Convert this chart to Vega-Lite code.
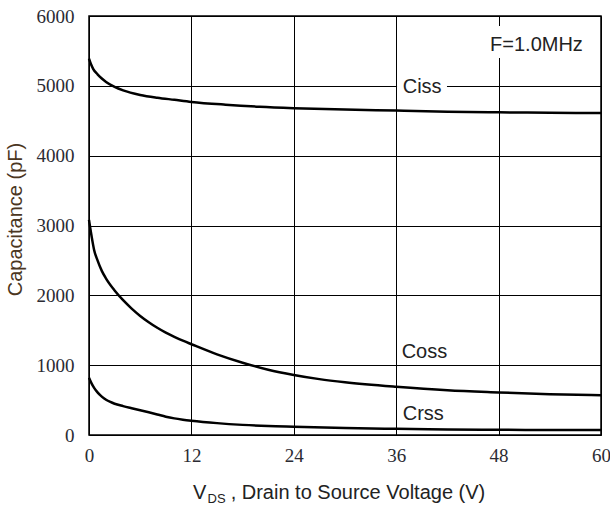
{
  "$schema": "https://vega.github.io/schema/vega-lite/v6.json",
  "width": 512,
  "height": 419,
  "autosize": {"type": "none"},
  "padding": {"left": 89, "top": 16, "right": 9, "bottom": 71},
  "background": "white",
  "config": {"view": {"stroke": "#000", "strokeWidth": 1.5}, "font": "Liberation Sans"},
  "datasets": {
    "curves": [
      {"series": "Ciss", "V": 0, "C": 5390}, {"series": "Ciss", "V": 0.25, "C": 5305}, {"series": "Ciss", "V": 0.5, "C": 5240},
      {"series": "Ciss", "V": 1, "C": 5165}, {"series": "Ciss", "V": 1.5, "C": 5105}, {"series": "Ciss", "V": 2, "C": 5055},
      {"series": "Ciss", "V": 3, "C": 4985}, {"series": "Ciss", "V": 4, "C": 4935}, {"series": "Ciss", "V": 6, "C": 4870},
      {"series": "Ciss", "V": 8, "C": 4830}, {"series": "Ciss", "V": 10, "C": 4800}, {"series": "Ciss", "V": 12, "C": 4770},
      {"series": "Ciss", "V": 16, "C": 4730}, {"series": "Ciss", "V": 20, "C": 4700}, {"series": "Ciss", "V": 24, "C": 4680},
      {"series": "Ciss", "V": 30, "C": 4660}, {"series": "Ciss", "V": 36, "C": 4645}, {"series": "Ciss", "V": 42, "C": 4630},
      {"series": "Ciss", "V": 48, "C": 4620}, {"series": "Ciss", "V": 54, "C": 4615}, {"series": "Ciss", "V": 60, "C": 4610},
      {"series": "Coss", "V": 0, "C": 3080}, {"series": "Coss", "V": 0.3, "C": 2850}, {"series": "Coss", "V": 0.6, "C": 2650},
      {"series": "Coss", "V": 1, "C": 2500}, {"series": "Coss", "V": 1.5, "C": 2350}, {"series": "Coss", "V": 2, "C": 2240},
      {"series": "Coss", "V": 3, "C": 2070}, {"series": "Coss", "V": 4, "C": 1930}, {"series": "Coss", "V": 5, "C": 1810},
      {"series": "Coss", "V": 6, "C": 1705}, {"series": "Coss", "V": 7, "C": 1615}, {"series": "Coss", "V": 8, "C": 1535},
      {"series": "Coss", "V": 9, "C": 1465}, {"series": "Coss", "V": 10, "C": 1405}, {"series": "Coss", "V": 11, "C": 1350},
      {"series": "Coss", "V": 12, "C": 1300}, {"series": "Coss", "V": 15, "C": 1155}, {"series": "Coss", "V": 18, "C": 1035},
      {"series": "Coss", "V": 21, "C": 935}, {"series": "Coss", "V": 24, "C": 860}, {"series": "Coss", "V": 27, "C": 800},
      {"series": "Coss", "V": 30, "C": 755}, {"series": "Coss", "V": 36, "C": 690}, {"series": "Coss", "V": 42, "C": 640},
      {"series": "Coss", "V": 48, "C": 610}, {"series": "Coss", "V": 54, "C": 585}, {"series": "Coss", "V": 60, "C": 570},
      {"series": "Crss", "V": 0, "C": 820}, {"series": "Crss", "V": 0.3, "C": 740}, {"series": "Crss", "V": 0.6, "C": 675},
      {"series": "Crss", "V": 1, "C": 610}, {"series": "Crss", "V": 1.5, "C": 550}, {"series": "Crss", "V": 2, "C": 505},
      {"series": "Crss", "V": 2.5, "C": 473}, {"series": "Crss", "V": 3, "C": 448}, {"series": "Crss", "V": 4, "C": 414},
      {"series": "Crss", "V": 5, "C": 384}, {"series": "Crss", "V": 6, "C": 355}, {"series": "Crss", "V": 7, "C": 325},
      {"series": "Crss", "V": 8, "C": 294}, {"series": "Crss", "V": 9, "C": 262}, {"series": "Crss", "V": 10, "C": 238},
      {"series": "Crss", "V": 11, "C": 220}, {"series": "Crss", "V": 12, "C": 205},
      {"series": "Crss", "V": 15, "C": 170}, {"series": "Crss", "V": 18, "C": 145}, {"series": "Crss", "V": 21, "C": 128},
      {"series": "Crss", "V": 24, "C": 118}, {"series": "Crss", "V": 30, "C": 100}, {"series": "Crss", "V": 36, "C": 88},
      {"series": "Crss", "V": 42, "C": 80}, {"series": "Crss", "V": 48, "C": 74}, {"series": "Crss", "V": 54, "C": 72},
      {"series": "Crss", "V": 60, "C": 70}
    ],
    "boxes": [
      {"V": 36.1, "V2": 41.95, "C": 4868, "C2": 5155},
      {"V": 46.5, "V2": 58.5, "C": 5399, "C2": 5857}
    ],
    "labels": [
      {"t": "Ciss", "V": 36.76, "C": 4902},
      {"t": "Coss", "V": 36.64, "C": 1098},
      {"t": "Crss", "V": 36.76, "C": 215},
      {"t": "F=1.0MHz", "V": 47.0, "C": 5503}
    ],
    "xtitle": [
      {"t": "V", "V": 12.19, "C": -916},
      {"t": ", Drain to Source Voltage (V)", "V": 16.6, "C": -916}
    ],
    "xsub": [
      {"t": "DS", "V": 13.9, "C": -974}
    ]
  },
  "layer": [
    {
      "data": {"name": "curves"},
      "mark": {"type": "line", "color": "#000", "strokeWidth": 2.5, "interpolate": "monotone"},
      "encoding": {
        "x": {
          "field": "V", "type": "quantitative",
          "scale": {"domain": [0, 60], "nice": false},
          "axis": {
            "values": [0, 12, 24, 36, 48, 60], "grid": true, "gridColor": "#000", "gridWidth": 1, "gridOpacity": 1,
            "domain": false, "ticks": false, "labelFont": "Liberation Sans Narrow", "labelFontSize": 19,
            "labelColor": "#2b2b33", "labelPadding": 11, "labelFlush": false, "title": null, "format": "d"
          }
        },
        "y": {
          "field": "C", "type": "quantitative",
          "scale": {"domain": [0, 6000], "nice": false},
          "axis": {
            "values": [0, 1000, 2000, 3000, 4000, 5000, 6000], "grid": true, "gridColor": "#000", "gridWidth": 1, "gridOpacity": 1,
            "domain": false, "ticks": false, "labelFont": "Liberation Sans Narrow", "labelFontSize": 19,
            "labelColor": "#2b2b33", "labelPadding": 15, "labelFlush": false, "format": "d",
            "title": "Capacitance (pF)", "titleFont": "Liberation Sans", "titleFontSize": 20, "titleFontWeight": "normal",
            "titleColor": "#4b3621", "titleX": -74, "titleY": 203, "titleAlign": "center", "titleBaseline": "middle"
          }
        },
        "detail": {"field": "series"}
      }
    },
    {
      "data": {"name": "boxes"},
      "mark": {"type": "rect", "color": "white"},
      "encoding": {
        "x": {"field": "V", "type": "quantitative", "scale": {"domain": [0, 60], "nice": false}},
        "x2": {"field": "V2"},
        "y": {"field": "C", "type": "quantitative", "scale": {"domain": [0, 6000], "nice": false}},
        "y2": {"field": "C2"}
      }
    },
    {
      "data": {"name": "labels"},
      "mark": {"type": "text", "align": "left", "baseline": "alphabetic", "fontSize": 20, "color": "#222", "font": "Liberation Sans"},
      "encoding": {
        "x": {"field": "V", "type": "quantitative", "scale": {"domain": [0, 60], "nice": false}},
        "y": {"field": "C", "type": "quantitative", "scale": {"domain": [0, 6000], "nice": false}},
        "text": {"field": "t"}
      }
    },
    {
      "data": {"name": "xtitle"},
      "mark": {"type": "text", "align": "left", "baseline": "alphabetic", "fontSize": 20, "color": "#222", "font": "Liberation Sans"},
      "encoding": {
        "x": {"field": "V", "type": "quantitative", "scale": {"domain": [0, 60], "nice": false}},
        "y": {"field": "C", "type": "quantitative", "scale": {"domain": [0, 6000], "nice": false}},
        "text": {"field": "t"}
      }
    },
    {
      "data": {"name": "xsub"},
      "mark": {"type": "text", "align": "left", "baseline": "alphabetic", "fontSize": 13, "color": "#222", "font": "Liberation Sans"},
      "encoding": {
        "x": {"field": "V", "type": "quantitative", "scale": {"domain": [0, 60], "nice": false}},
        "y": {"field": "C", "type": "quantitative", "scale": {"domain": [0, 6000], "nice": false}},
        "text": {"field": "t"}
      }
    }
  ]
}
